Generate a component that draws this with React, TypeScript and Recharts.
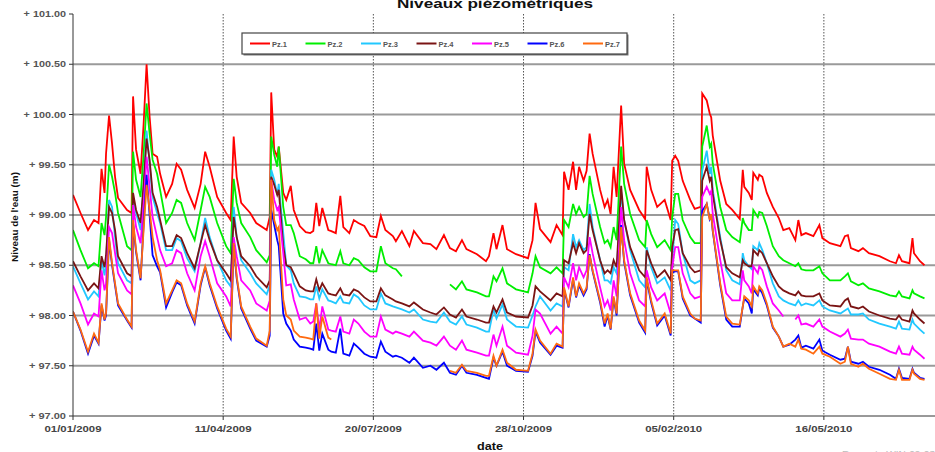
import React from 'react';
import { LineChart, Line, XAxis, YAxis, CartesianGrid } from 'recharts';

const days = [0,5,10,14,17,19,21,22,24,26,
 28,30,36,39,40,42,45,47,49,51,
 53,56,58,62,66,69,72,76,81,85,
 88,91,96,102,105,107,109,112,118,122,
 129,131,132,134,136,137,140,142,145,147,
 151,155,158,160,162,164,166,170,172,175,
 178,180,184,187,190,194,198,202,205,208,
 213,215,219,224,227,233,238,242,247,251,
 255,259,262,269,275,277,280,282,286,289,
 295,303,306,308,311,318,322,326,327,330,
 333,335,337,340,342,344,346,351,354,356,
 358,360,362,365,367,371,377,381,382,385,
 389,394,398,399,401,403,406,411,414,418,
 419,422,424,425,426,431,435,439,444,446,
 447,450,452,453,456,457,459,462,466,470,
 473,477,481,483,485,488,493,497,499,504,
 511,514,516,518,523,526,530,537,544,548,
 550,552,557,559,560,564,567];

const pz1 = [99.20,99.02,98.85,98.95,98.92,99.46,99.22,99.61,99.99,99.71,
 99.38,99.17,99.05,99.02,100.18,99.65,99.41,99.90,100.50,99.98,
 99.61,99.58,99.41,99.18,99.31,99.51,99.45,99.25,99.07,99.31,
 99.63,99.48,99.18,99.02,98.95,99.78,99.38,99.12,99.02,98.92,
 98.85,98.98,100.22,99.65,99.58,99.68,99.22,99.15,99.29,99.05,
 98.89,98.83,98.82,98.84,99.12,98.89,99.07,98.85,98.84,98.82,
 99.19,98.88,98.82,98.95,98.92,98.89,98.79,98.78,98.99,98.85,
 98.79,98.74,98.84,98.69,98.84,98.72,98.71,98.66,98.80,98.67,
 98.64,98.75,98.66,98.61,98.54,98.59,98.82,98.66,98.90,98.66,
 98.61,98.57,98.75,99.12,98.86,98.73,98.90,98.80,99.43,99.25,
 99.53,99.25,99.48,99.34,99.44,99.81,99.61,99.25,99.08,99.15,
 99.01,99.48,99.18,100.09,99.51,99.25,99.05,98.96,99.48,99.25,
 99.08,99.15,98.95,99.54,99.59,99.54,99.34,99.15,99.06,99.08,
 100.21,100.14,100.01,99.97,99.79,99.34,99.11,99.05,98.96,99.45,
 99.28,99.22,99.15,99.42,99.35,99.40,99.38,99.22,99.08,98.97,
 98.85,98.87,98.75,98.95,98.80,98.82,98.79,98.90,98.77,98.72,
 98.69,98.79,98.80,98.67,98.64,98.67,98.62,98.59,98.54,98.52,
 98.60,98.54,98.52,98.77,98.62,98.54,98.50];

const pz2 = [98.85,98.65,98.47,98.52,98.49,98.92,98.80,98.98,99.50,99.38,
 99.22,99.02,98.69,98.65,99.63,99.35,99.18,99.60,100.11,99.81,
 99.55,99.41,99.25,98.92,99.02,99.15,99.12,98.92,98.75,99.05,
 99.28,99.18,98.92,98.69,98.62,99.36,99.12,98.92,98.78,98.65,
 98.53,98.60,99.78,99.60,99.48,99.68,99.08,98.90,98.90,98.82,
 98.59,98.56,98.52,98.52,98.69,98.52,98.65,98.52,98.51,98.50,
 98.64,98.52,98.50,98.57,98.55,98.48,98.44,98.44,98.69,98.52,
 98.47,98.46,98.39,null,null,null,null,null,null,98.31,
 98.26,98.34,98.26,98.23,98.19,98.19,98.39,98.34,98.47,98.32,
 98.26,98.23,98.42,98.59,98.48,98.42,98.48,98.42,98.95,98.88,
 99.11,99.01,99.08,98.98,99.01,99.39,99.21,98.88,98.72,98.75,
 98.68,98.88,98.75,99.68,99.31,99.01,98.75,98.68,98.95,98.81,
 98.68,98.75,98.65,98.98,99.21,99.21,98.95,98.78,98.72,98.72,
 99.68,99.89,99.68,99.71,99.51,99.08,98.85,98.78,98.73,98.97,
 98.92,98.85,98.85,99.05,98.98,99.03,99.02,98.89,98.69,98.59,
 98.55,98.52,98.49,98.52,98.46,98.45,98.45,98.49,98.42,98.35,
 98.35,98.39,98.42,98.34,98.30,98.32,98.27,98.24,98.20,98.19,
 98.24,98.19,98.17,98.25,98.22,98.19,98.17];

const pz3 = [98.49,98.32,98.16,98.24,98.19,98.55,98.40,98.52,99.15,99.08,
 98.78,98.52,98.35,98.32,99.15,99.02,98.85,99.30,99.84,99.51,
 99.18,99.02,98.92,98.65,98.65,98.77,98.74,98.57,98.44,98.72,
 98.97,98.78,98.55,98.35,98.29,99.08,98.78,98.55,98.42,98.32,
 98.21,98.30,99.45,99.35,99.20,99.31,98.82,98.50,98.45,98.32,
 98.19,98.18,98.16,98.16,98.29,98.17,98.26,98.15,98.14,98.12,
 98.19,98.13,98.12,98.21,98.18,98.10,98.06,98.06,98.22,98.12,
 98.09,98.08,98.06,98.03,98.06,97.96,97.94,97.93,98.03,97.94,
 97.91,97.99,97.91,97.88,97.84,97.84,98.06,97.97,98.11,97.96,
 97.89,97.88,98.00,98.09,98.19,98.05,98.12,98.09,98.48,98.45,
 98.81,98.68,98.75,98.65,98.68,99.11,98.88,98.55,98.35,98.35,
 98.32,98.48,98.42,99.23,98.95,98.65,98.35,98.28,98.68,98.48,
 98.32,98.38,98.25,98.55,98.95,98.91,98.62,98.35,98.32,98.35,
 99.44,99.64,99.41,99.48,99.25,98.78,98.45,98.35,98.31,98.62,
 98.55,98.49,98.46,98.69,98.65,98.72,98.65,98.52,98.32,98.19,
 98.15,98.12,98.10,98.15,98.10,98.12,98.10,98.15,98.09,98.05,
 98.02,98.05,98.07,98.01,98.01,98.02,97.96,97.92,97.89,97.87,
 97.94,97.87,97.86,97.96,97.92,97.86,97.82];

const pz4 = [98.54,98.39,98.25,98.32,98.27,98.59,98.48,98.60,99.08,99.02,
 98.85,98.59,98.42,98.39,99.22,99.05,98.92,99.30,99.76,99.55,
 99.22,99.08,98.95,98.69,98.69,98.80,98.77,98.62,98.47,98.72,
 98.90,98.75,98.55,98.42,98.35,98.98,98.78,98.59,98.49,98.39,
 98.28,98.35,99.38,99.30,99.20,99.25,98.69,98.50,98.48,98.42,
 98.29,98.25,98.24,98.24,98.36,98.25,98.32,98.22,98.21,98.20,
 98.27,98.21,98.20,98.26,98.24,98.18,98.14,98.14,98.27,98.20,
 98.16,98.14,98.12,98.09,98.13,98.06,98.03,98.01,98.08,98.01,
 97.98,98.06,97.99,97.96,97.93,97.93,98.09,98.03,98.16,98.03,
 97.99,97.98,98.10,98.29,98.24,98.15,98.22,98.19,98.55,98.52,
 98.72,98.62,98.72,98.62,98.65,99.01,98.85,98.55,98.42,98.45,
 98.42,98.55,98.48,99.29,98.95,98.68,98.45,98.38,98.65,98.52,
 98.38,98.45,98.35,98.68,98.85,98.86,98.62,98.48,98.43,98.45,
 99.34,99.48,99.34,99.38,99.21,98.75,98.48,98.42,98.38,98.55,
 98.52,98.49,98.49,98.65,98.60,98.65,98.62,98.52,98.39,98.29,
 98.25,98.22,98.20,98.24,98.20,98.19,98.19,98.22,98.15,98.10,
 98.09,98.15,98.17,98.09,98.07,98.09,98.04,98.00,97.97,97.96,
 98.00,97.96,97.94,98.05,98.02,97.96,97.92];

const pz5 = [98.30,98.12,97.91,98.02,97.99,98.45,98.25,98.32,98.88,98.82,
 98.62,98.42,98.25,98.21,99.10,98.88,98.72,99.10,99.58,99.28,
 98.98,98.78,98.65,98.49,98.52,98.65,98.62,98.42,98.25,98.59,
 98.74,98.59,98.32,98.19,98.09,98.78,98.59,98.35,98.25,98.12,
 98.05,98.15,99.35,99.15,99.05,99.08,98.62,98.30,98.31,98.16,
 97.96,97.98,97.92,97.94,98.12,97.86,98.09,97.86,97.85,97.84,
 97.99,97.84,97.82,97.96,97.92,97.84,97.79,97.79,97.99,97.86,
 97.82,97.84,97.82,97.79,97.84,97.75,97.73,97.70,97.79,97.70,
 97.66,97.75,97.66,97.63,97.60,97.60,97.81,97.70,97.89,97.70,
 97.63,97.61,97.80,98.06,98.02,97.82,97.89,97.82,98.38,98.28,
 98.52,98.35,98.48,98.38,98.45,98.78,98.62,98.28,98.09,98.15,
 98.05,98.35,98.19,99.08,98.75,98.42,98.15,98.09,98.45,98.28,
 98.15,98.22,98.02,98.48,98.68,98.68,98.42,98.22,98.17,98.19,
 99.18,99.28,99.21,99.24,99.01,98.55,98.22,98.15,98.15,98.45,
 98.35,98.29,98.22,98.49,98.42,98.49,98.45,98.29,98.12,98.05,
 97.99,null,97.96,98.00,97.91,97.92,97.89,97.96,97.89,97.84,
 97.79,97.82,97.86,97.77,97.76,97.76,97.72,97.69,97.64,97.62,
 97.69,97.62,97.61,97.69,97.66,97.61,97.57];

const pz6 = [98.04,97.85,97.62,97.80,97.72,98.10,97.95,98.00,98.75,98.50,
 98.30,98.10,97.95,97.88,98.92,98.63,98.35,98.90,99.40,99.00,
 98.60,98.49,98.43,98.08,98.23,98.33,98.30,98.10,97.92,98.30,
 98.48,98.30,98.07,97.85,97.77,98.70,98.37,98.07,97.87,97.75,
 97.69,97.80,99.05,98.90,98.75,98.69,98.02,97.92,97.85,97.76,
 97.69,97.68,97.67,97.66,97.92,97.65,97.82,97.66,97.64,97.63,
 97.87,97.62,97.60,97.72,97.68,97.62,97.59,97.58,97.74,97.64,
 97.59,97.60,97.58,97.53,97.58,97.48,97.50,97.46,97.53,97.43,
 97.41,97.50,97.43,97.41,97.38,97.37,97.58,97.50,97.64,97.50,
 97.45,97.44,97.60,97.84,97.73,97.61,97.70,97.68,98.26,98.08,
 98.36,98.18,98.30,98.20,98.26,98.61,98.44,98.13,97.89,98.00,
 97.86,98.17,98.00,98.90,98.53,98.20,97.93,97.83,98.36,98.13,
 97.90,98.00,97.80,98.43,98.44,98.44,98.17,98.00,97.97,97.93,
 99.04,99.11,98.96,99.00,98.84,98.30,97.96,97.89,97.89,98.09,
 98.17,98.12,98.02,98.26,98.20,98.27,98.22,98.10,97.88,97.79,
 97.69,97.71,97.76,97.80,97.68,97.70,97.67,97.76,97.65,97.61,
 97.56,97.57,97.69,97.54,97.52,97.54,97.49,97.46,97.41,97.37,
 97.47,97.38,97.37,97.47,97.43,97.38,97.37];

const pz7 = [98.04,97.86,97.64,97.82,97.73,98.12,97.96,98.02,98.78,98.52,
 98.32,98.12,97.96,97.89,98.95,98.65,98.37,98.85,99.30,99.05,
 98.78,98.55,98.45,98.12,98.25,98.35,98.32,98.12,97.94,98.32,
 98.49,98.32,98.09,97.87,97.79,98.72,98.39,98.09,97.89,97.77,
 97.70,97.85,99.35,98.95,98.85,98.88,98.16,98.00,97.96,97.85,
 97.79,97.78,97.77,97.76,98.12,97.77,97.99,97.78,97.76,null,
 null,null,null,null,null,null,null,null,null,null,
 null,null,null,null,null,null,null,null,null,97.45,
 97.43,97.51,97.45,97.43,97.40,97.40,97.60,97.50,97.66,97.53,
 97.46,97.45,97.62,97.86,97.75,97.62,97.72,97.69,98.28,98.09,
 98.38,98.19,98.32,98.22,98.28,98.60,98.45,98.15,97.92,98.02,
 97.87,98.19,98.02,98.88,98.55,98.22,97.95,97.85,98.38,98.15,
 97.92,98.02,97.82,98.45,98.45,98.45,98.19,98.02,97.97,97.95,
 98.98,99.11,98.95,99.01,98.85,98.32,97.99,97.92,97.91,98.09,
 98.19,98.15,98.09,98.29,98.22,98.29,98.25,98.12,97.89,97.79,
 97.69,97.72,97.69,97.76,97.67,97.66,97.62,97.69,97.62,97.59,
 97.52,97.54,97.69,97.52,97.49,97.52,97.47,97.42,97.37,97.36,
 97.46,97.36,97.36,97.46,97.42,97.37,97.36];

const seriesNames = ['Pz.1', 'Pz.2', 'Pz.3', 'Pz.4', 'Pz.5', 'Pz.6', 'Pz.7'];
const seriesKeys = ['pz1', 'pz2', 'pz3', 'pz4', 'pz5', 'pz6', 'pz7'];
const seriesColors = ['#ff0000', '#00ee00', '#22c8ff', '#7a1414', '#ff00ff', '#0000ff', '#ff6a10'];
const seriesValues = [pz1, pz2, pz3, pz4, pz5, pz6, pz7];

const yTicks = [97, 97.5, 98, 98.5, 99, 99.5, 100, 100.5, 101];
const yGrid = [97.5, 98, 98.5, 99, 99.5, 100, 100.5];
const xTicks = [0, 100, 200, 300, 400, 500];
const xGrid = [100, 200, 300, 400, 500];

const data = days.map((d, i) => {
  const row: Record<string, number | null> = { day: d };
  seriesKeys.forEach((k, j) => { row[k] = seriesValues[j][i]; });
  return row;
});

const START = Date.UTC(2009, 0, 1);
const fmtDate = (d: number) => {
  const dt = new Date(START + d * 86400000);
  const dd = String(dt.getUTCDate()).padStart(2, '0');
  const mm = String(dt.getUTCMonth() + 1).padStart(2, '0');
  return `${dd}/${mm}/${dt.getUTCFullYear()}`;
};
const fmtY = (v: number) => `+ ${v.toFixed(2)}`;

const FONT = '"Liberation Sans", Arial, sans-serif';

const YTick = (props: any) => {
  const { x, y, payload } = props;
  const s = fmtY(payload.value);
  return (
    <text x={x - 1} y={y + 3} textAnchor="end" fontSize={8.5} fontWeight="bold" fill="#555"
      fontFamily={FONT} textLength={s.length * 5.3} lengthAdjust="spacingAndGlyphs">{s}</text>
  );
};

const XTick = (props: any) => {
  const { x, y, payload } = props;
  const s = fmtDate(payload.value);
  return (
    <text x={x} y={y + 10} textAnchor="middle" fontSize={8.5} fontWeight="bold" fill="#444"
      fontFamily={FONT} textLength={57} lengthAdjust="spacingAndGlyphs">{s}</text>
  );
};

export default function App() {
  return (
    <div style={{ position: 'absolute', left: 0, top: 0, width: 935, height: 452, background: '#fff', overflow: 'hidden' }}>
      <LineChart width={935} height={452} data={data} margin={{ top: 14, right: 0, bottom: 0, left: 0 }}>
        <CartesianGrid horizontal={true} vertical={false} horizontalValues={yGrid} stroke="#9a9a9a" strokeWidth={2} />
        <CartesianGrid horizontal={false} vertical={true} verticalValues={xGrid} stroke="#555" strokeDasharray="1.5 1.5" />
        <XAxis dataKey="day" type="number" domain={[0, 574]} ticks={xTicks} interval={0}
          height={36} tick={<XTick />} tickSize={4} axisLine={{ stroke: '#333' }} tickLine={{ stroke: '#333' }} allowDataOverflow />
        <YAxis type="number" domain={[97, 101]} ticks={yTicks} interval={0} width={73}
          tick={<YTick />} tickSize={4} axisLine={{ stroke: '#333' }} tickLine={{ stroke: '#333' }} allowDataOverflow />
        {seriesKeys.map((k, j) => (
          <Line key={k} dataKey={k} name={seriesNames[j]} stroke={seriesColors[j]} strokeWidth={1.8}
            dot={false} activeDot={false} type="linear" isAnimationActive={false} connectNulls={false} />
        ))}
      </LineChart>
      <svg width={935} height={452} style={{ position: 'absolute', left: 0, top: 0, pointerEvents: 'none' }}>
        <text x={495} y={8} textAnchor="middle" fontSize={12} fontWeight="bold" fill="#111" fontFamily={FONT}
          textLength={196} lengthAdjust="spacingAndGlyphs">Niveaux piézométriques</text>
        <rect x={243.5} y={34.5} width={385} height={21} fill="#777" />
        <rect x={242} y={33} width={385} height={21} fill="#fff" stroke="#444" strokeWidth={1.2} />
        {seriesNames.map((n, j) => {
          const x0 = 250 + j * 55.5;
          return (
            <g key={n}>
              <line x1={x0} x2={x0 + 20} y1={43.5} y2={43.5} stroke={seriesColors[j]} strokeWidth={2} />
              <text x={x0 + 22} y={46.5} fontSize={7} fontWeight="bold" fill="#555" fontFamily={FONT}
                textLength={15} lengthAdjust="spacingAndGlyphs">{n}</text>
            </g>
          );
        })}
        <text transform="translate(18,217) rotate(-90)" textAnchor="middle" fontSize={9} fontWeight="bold" fill="#111"
          fontFamily={FONT} textLength={90} lengthAdjust="spacingAndGlyphs">Niveau de l'eau (m)</text>
        <text x={490} y={450} textAnchor="middle" fontSize={10} fontWeight="bold" fill="#111" fontFamily={FONT}
          textLength={26} lengthAdjust="spacingAndGlyphs">date</text>
        <text x={842} y={457} fontSize={9} fill="#bbb" fontFamily={FONT}
          textLength={93} lengthAdjust="spacingAndGlyphs">Rapport : WIN-09-03</text>
      </svg>
    </div>
  );
}
